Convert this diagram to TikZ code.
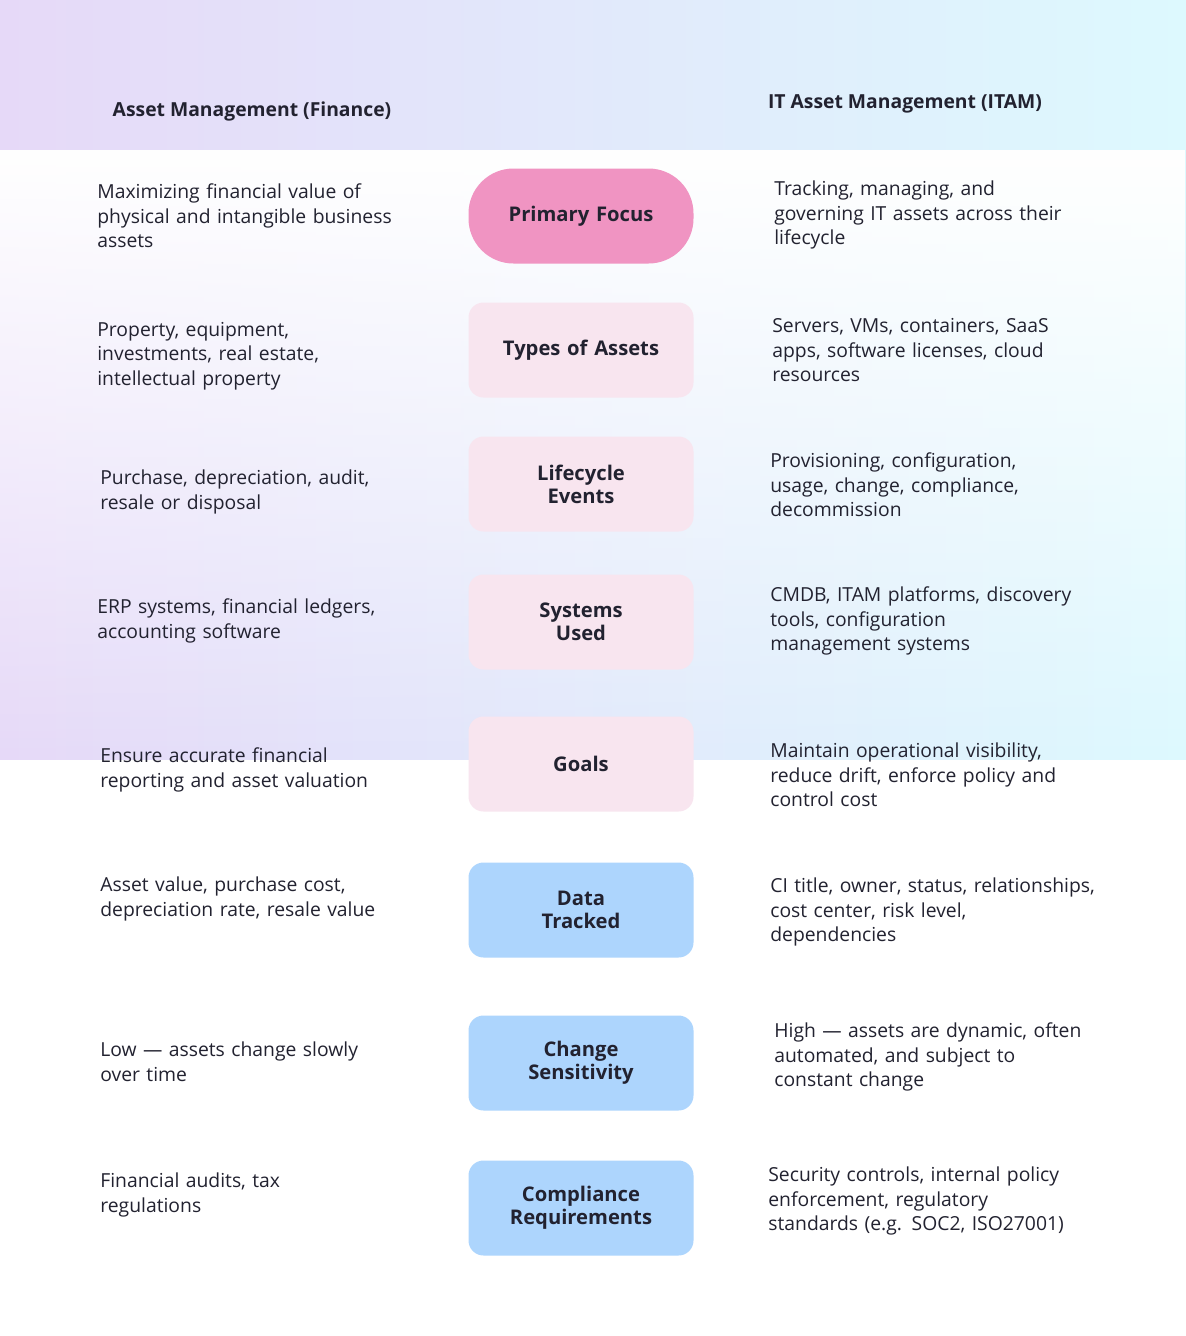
\documentclass[tikz,border=0pt]{standalone}
\usepackage{fontspec}
\setmainfont{Open Sans}
\usetikzlibrary{fadings}
\definecolor{pinkA}{HTML}{F094C2}
\definecolor{pinkB}{HTML}{F8E5EF}
\definecolor{blueA}{HTML}{ADD5FD}
\definecolor{txt}{HTML}{222230}
\definecolor{bgL}{HTML}{E6D9F8}
\definecolor{bgM}{HTML}{C8D9FA}
\definecolor{bgR}{HTML}{DDF9FE}
\tikzset{
	box1/.style={
		rectangle,
		rounded corners=15\unitpx,
		fill=pinkB,
		draw=none,
		minimum width=225\unitpx,
		minimum height=95\unitpx,
		text width=200\unitpx,
		align=center,
		font=\fontsize{11.5}{13}\selectfont\bfseries,
		text=txt},
	box2/.style={
		box1,
		fill=blueA},
	side/.style={
		anchor=west,
		text width=400\unitpx,
		align=left,
		inner sep=0pt,
		font=\fontsize{11}{14}\selectfont,
		text=txt},
	head/.style={
		font=\fontsize{11}{13}\selectfont\bfseries,
		text=txt}
}
\newlength{\unitpx}
\setlength{\unitpx}{0.02cm}
\begin{document}
\begin{tikzpicture}[x=0.02cm,y=-0.02cm]
\useasboundingbox (0,0) rectangle (1186,1336);
% background
\shade[left color=bgL, middle color=bgM, right color=bgR] (0,0) rectangle (1186,760);
\fill[white, path fading=south] (0,150) rectangle (1186,762);
\fill[white] (0,760) rectangle (1186,1336);
% headers
\node[head] (fin) at (252,111) {Asset Management (Finance)};
\node[head] (itam) at (905,104) {IT Asset Management (ITAM)};
% middle column
\node[box1, fill=pinkA, rounded corners=45\unitpx] (focus) at (581,216) {Primary Focus};
\node[box1] (types) at (581,350) {Types of Assets};
\node[box1] (life) at (581,484) {Lifecycle\\Events};
\node[box1] (systems) at (581,622) {Systems\\Used};
\node[box1] (goals) at (581,764) {Goals};
\node[box2] (data) at (581,910) {Data\\Tracked};
\node[box2] (change) at (581,1063) {Change\\Sensitivity};
\node[box2] (comply) at (581,1208) {Compliance\\Requirements};
% finance column
\node[side] (fin-focus) at (97,216) {Maximizing financial value of\\physical and intangible business\\assets};
\node[side] (fin-types) at (97,356) {Property, equipment,\\investments, real estate,\\intellectual property};
\node[side] (fin-life) at (100,492) {Purchase, depreciation, audit,\\resale or disposal};
\node[side] (fin-systems) at (97,621) {ERP systems, financial ledgers,\\accounting software};
\node[side] (fin-goals) at (100,770) {Ensure accurate financial\\reporting and asset valuation};
\node[side] (fin-data) at (100,899) {Asset value, purchase cost,\\depreciation rate, resale value};
\node[side] (fin-change) at (100,1062) {Low — assets change slowly\\over time};
\node[side] (fin-comply) at (100,1195) {Financial audits, tax\\regulations};
% itam column
\node[side] (itam-focus) at (774,215) {Tracking, managing, and\\governing IT assets across their\\lifecycle};
\node[side] (itam-types) at (772,350) {Servers, VMs, containers, SaaS\\apps, software licenses, cloud\\resources};
\node[side] (itam-life) at (770,485) {Provisioning, configuration,\\usage, change, compliance,\\decommission};
\node[side] (itam-systems) at (770,621) {CMDB, ITAM platforms, discovery\\tools, configuration\\management systems};
\node[side] (itam-goals) at (770,775) {Maintain operational visibility,\\reduce drift, enforce policy and\\control cost};
\node[side] (itam-data) at (770,912) {CI title, owner, status, relationships,\\cost center, risk level,\\dependencies};
\node[side] (itam-change) at (774,1057) {High — assets are dynamic, often\\automated, and subject to\\constant change};
\node[side] (itam-comply) at (768,1201) {Security controls, internal policy\\enforcement, regulatory\\standards (e.g. SOC2, ISO27001)};
\end{tikzpicture}
\end{document}
